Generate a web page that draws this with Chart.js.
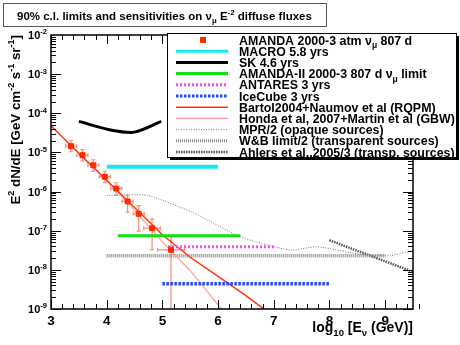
<!DOCTYPE html>
<html>
<head>
<meta charset="utf-8">
<script src="https://cdn.jsdelivr.net/npm/chart.js"></script>
<style>
  body { margin: 0; background: #fff; }
  #wrap { width: 460px; height: 345px; }
</style>
</head>
<body>
<div id="wrap"><canvas id="c" width="460" height="345"></canvas></div>
<script>
// axis ranges and tick labels
const xRange = [3, 9.5];
const yRange = [1e-9, 1e-2];
const xTickLabels = ['3', '4', '5', '6', '7', '8', '9'];
const yTickExps = [-2, -3, -4, -5, -6, -7, -8, -9];

// AMANDA 2000-3 atmospheric nu_mu unfolded points
const amandaE = [3.36, 3.565, 3.76, 3.965, 4.17, 4.375, 4.575, 4.815, 5.155];
const amandaFlux = [1.44e-5, 8.5e-6, 4.7e-6, 2.4e-6, 1.19e-6, 5.6e-7, 2.7e-7, 1.16e-7, 3.25e-8];
const amandaErrE = [0.1, 0.1, 0.1, 0.1, 0.1, 0.1, 0.1, 0.15, 0.24];
const amandaFluxHi = [1.99e-5, 1.18e-5, 6.5e-6, 3.3e-6, 1.68e-6, 7.9e-7, 4.4e-7, 1.97e-7, 6.9e-8];
const amandaFluxLo = [1.04e-5, 6.1e-6, 3.3e-6, 1.7e-6, 8.0e-7, 3.0e-7, 9.8e-8, 3.3e-8, 1e-11];

// limits / sensitivities
const macroE = [4.0, 6.0];
const macroFlux = [4.3e-6, 4.3e-6];
const skE = [3.5, 4.05, 4.5, 4.98];
const skFlux = [6.2e-5, 3.8e-5, 3.3e-5, 6.2e-5];
const amanda2E = [4.2, 6.4];
const amanda2Flux = [7.4e-8, 7.4e-8];
const antaresE = [5.1, 7.0];
const antaresFlux = [3.9e-8, 3.9e-8];
const icecubeE = [5.0, 8.0];
const icecubeFlux = [4.4e-9, 4.4e-9];

// atmospheric predictions
const bartolE = [3.0, 3.5, 4.0, 4.5, 5.0, 5.5, 6.0, 6.5, 7.0];
const bartolFlux = [4.8e-5, 9.5e-6, 1.95e-6, 3.9e-7, 7.9e-8, 2.1e-8, 6.8e-9, 2.2e-9, 6.5e-10];
const hondaE = [3.3, 4.0, 4.5, 5.0, 5.5, 6.06, 6.3];
const hondaFlux = [1.8e-5, 1.9e-6, 3.3e-7, 5.2e-8, 9.5e-9, 1e-9, 4e-10];

// theoretical bounds
const mprE = [4.0, 4.73, 5.55, 6.39, 7.29, 7.77, 8.55, 9.09, 9.5];
const mprFlux = [8.0e-7, 8.0e-7, 2.9e-7, 7.1e-8, 3.2e-8, 3.9e-8, 2.5e-8, 2.3e-8, 3.1e-8];
const wbE = [4.0, 9.0];
const wbFlux = [2.3e-8, 2.3e-8];
const ahlersE = [8.0, 9.5];
const ahlersFlux = [5.7e-8, 8.9e-9];

const pts = (xs, ys) => xs.map((x, i) => ({ x: x, y: ys[i] }));
const FONT = '"Liberation Sans", Arial, sans-serif';

function line(label, xs, ys, color, width, dash, tension) {
  return {
    label: label, data: pts(xs, ys), borderColor: color, backgroundColor: color,
    borderWidth: width, borderDash: dash || [], pointRadius: 0, tension: tension || 0,
    fill: false
  };
}

const datasets = [
  {
    label: 'AMANDA', data: pts(amandaE, amandaFlux), showLine: false,
    pointStyle: 'rect', pointRadius: 3.5, backgroundColor: '#ff2a00', borderColor: '#ff2a00',
    legendParts: [['AMANDA 2000-3 atm ', 0], ['ν', 0], ['μ', -1], [' 807 d', 0]], legendMarker: true
  },
  Object.assign(line('MACRO', macroE, macroFlux, '#19e6f0', 4), { legendParts: [['MACRO 5.8 yrs', 0]] }),
  Object.assign(line('SK', skE, skFlux, '#000000', 3, null, 0.3), { legendParts: [['SK 4.6 yrs', 0]] }),
  Object.assign(line('AMANDA-II', amanda2E, amanda2Flux, '#11e011', 3), { legendParts: [['AMANDA-II 2000-3 807 d ', 0], ['ν', 0], ['μ', -1], [' limit', 0]] }),
  Object.assign(line('ANTARES', antaresE, antaresFlux, '#ff44ff', 3, [2, 2]), { legendParts: [['ANTARES 3 yrs', 0]] }),
  Object.assign(line('IceCube', icecubeE, icecubeFlux, '#2244ff', 3.5, [2.5, 1.5]), { legendParts: [['IceCube 3 yrs', 0]] }),
  Object.assign(line('Bartol', bartolE, bartolFlux, '#ff3311', 1.5), { legendParts: [['Bartol2004+Naumov et al (RQPM)', 0]] }),
  Object.assign(line('Honda', hondaE, hondaFlux, '#ffa090', 1.2), { legendParts: [['Honda et al, 2007+Martin et al (GBW)', 0]] }),
  Object.assign(line('MPR', mprE, mprFlux, '#777777', 1, [1, 1.5], 0.2), { legendParts: [['MPR/2 (opaque sources)', 0]] }),
  Object.assign(line('WB', wbE, wbFlux, '#888888', 3.5, [1, 1]), { legendParts: [['W&B limit/2 (transparent sources)', 0]] }),
  Object.assign(line('Ahlers', ahlersE, ahlersFlux, '#555555', 2.5, [1.5, 1]), { legendParts: [['Ahlers et al.,2005/3 (transp. sources)', 0]] })
];

// draws text made of pieces: mode 0 normal, 1 superscript, -1 subscript
function rich(ctx, parts, x, y, size, align) {
  let w = 0;
  const ws = parts.map(p => {
    ctx.font = 'bold ' + (p[1] ? size * 0.68 : size) + 'px ' + FONT;
    const m = ctx.measureText(p[0]).width;
    w += m;
    return m;
  });
  let cx = align === 'right' ? x - w : align === 'center' ? x - w / 2 : x;
  ctx.textAlign = 'left';
  ctx.textBaseline = 'alphabetic';
  parts.forEach((p, i) => {
    ctx.font = 'bold ' + (p[1] ? size * 0.68 : size) + 'px ' + FONT;
    const dy = p[1] === 1 ? -size * 0.42 : p[1] === -1 ? size * 0.3 : 0;
    ctx.fillText(p[0], cx, y + dy);
    cx += ws[i];
  });
}

const decor = {
  id: 'decor',
  beforeDatasetsDraw(chart) {
    // error bars of the AMANDA points
    const ctx = chart.ctx, xs = chart.scales.x, ys = chart.scales.y, a = chart.chartArea;
    ctx.save();
    ctx.beginPath();
    ctx.rect(a.left, a.top, a.right - a.left, a.bottom - a.top);
    ctx.clip();
    ctx.strokeStyle = '#ff8c78';
    ctx.lineWidth = 1.2;
    amandaE.forEach((e, i) => {
      const px = xs.getPixelForValue(e), py = ys.getPixelForValue(amandaFlux[i]);
      const x0 = xs.getPixelForValue(e - amandaErrE[i]), x1 = xs.getPixelForValue(e + amandaErrE[i]);
      const y0 = ys.getPixelForValue(amandaFluxHi[i]);
      const y1 = Math.min(ys.getPixelForValue(amandaFluxLo[i]), a.bottom + 5);
      ctx.beginPath();
      ctx.moveTo(x0, py); ctx.lineTo(x1, py);
      ctx.moveTo(px, y0); ctx.lineTo(px, y1);
      ctx.moveTo(x0, py - 2); ctx.lineTo(x0, py + 2);
      ctx.moveTo(x1, py - 2); ctx.lineTo(x1, py + 2);
      ctx.moveTo(px - 2, y0); ctx.lineTo(px + 2, y0);
      ctx.moveTo(px - 2, y1); ctx.lineTo(px + 2, y1);
      ctx.stroke();
    });
    ctx.restore();
  },
  afterDraw(chart) {
    const ctx = chart.ctx, xs = chart.scales.x, ys = chart.scales.y, a = chart.chartArea;
    ctx.save();
    ctx.strokeStyle = '#000';
    ctx.fillStyle = '#000';
    ctx.lineWidth = 1;

    // ticks on all four sides, pointing inward
    ctx.beginPath();
    for (let k = 0; k <= Math.round((xRange[1] - xRange[0]) / 0.2); k++) {
      const v = xRange[0] + k * 0.2;
      const major = Math.abs(v - Math.round(v)) < 1e-6;
      const px = Math.round(xs.getPixelForValue(v)) + 0.5;
      const len = major ? 9 : 5;
      ctx.moveTo(px, a.bottom); ctx.lineTo(px, a.bottom - len);
      ctx.moveTo(px, a.top); ctx.lineTo(px, a.top + len);
    }
    for (let e = -9; e < -2; e++) {
      for (let m = 1; m <= 9; m++) {
        const py = Math.round(ys.getPixelForValue(m * Math.pow(10, e))) + 0.5;
        const len = m === 1 ? 10 : 5;
        ctx.moveTo(a.left, py); ctx.lineTo(a.left + len, py);
        ctx.moveTo(a.right, py); ctx.lineTo(a.right - len, py);
      }
    }
    ctx.stroke();

    // frame
    ctx.lineWidth = 1.5;
    ctx.strokeRect(a.left, a.top, a.right - a.left, a.bottom - a.top);

    // tick labels
    xTickLabels.forEach(t => {
      rich(ctx, [[t, 0]], xs.getPixelForValue(Number(t)), a.bottom + 16, 13.5, 'center');
    });
    yTickExps.forEach(e => {
      rich(ctx, [['10', 0], [String(e), 1]], a.left - 4, ys.getPixelForValue(Math.pow(10, e)) + 4, 11, 'right');
    });

    // axis titles
    rich(ctx, [['log', 0], ['10', -1], [' [E', 0], ['ν', -1], [' (GeV)]', 0]], a.right, 332, 14, 'right');
    ctx.save();
    ctx.translate(20, a.top);
    ctx.rotate(-Math.PI / 2);
    rich(ctx, [['E', 0], ['2', 1], [' dN/dE [GeV cm', 0], ['-2', 1], [' s', 0], ['-1', 1], [' sr', 0], ['-1', 1], [']', 0]], 0, 0, 13.3, 'right');
    ctx.restore();

    // legend box with shadow
    const lx = 167, ly = 33, lw = 289, lh = 124;
    ctx.fillStyle = '#000';
    ctx.fillRect(lx + 3, ly + 3, lw, lh);
    ctx.fillStyle = '#fff';
    ctx.fillRect(lx, ly, lw, lh);
    ctx.lineWidth = 1;
    ctx.strokeStyle = '#000';
    ctx.strokeRect(lx + 0.5, ly + 0.5, lw, lh);
    chart.data.datasets.forEach((ds, i) => {
      const ry = ly + 7 + i * 11.2;
      if (ds.legendMarker) {
        ctx.fillStyle = ds.backgroundColor;
        ctx.fillRect(200, ry - 3, 6, 6);
      } else {
        ctx.save();
        ctx.strokeStyle = ds.borderColor;
        ctx.lineWidth = Math.min(ds.borderWidth, 3);
        ctx.setLineDash(ds.borderDash);
        ctx.beginPath();
        ctx.moveTo(176, ry); ctx.lineTo(228, ry);
        ctx.stroke();
        ctx.restore();
      }
      ctx.fillStyle = '#000';
      rich(ctx, ds.legendParts, 239, ry + 4.5, 12.4, 'left');
    });

    // title box
    ctx.fillStyle = '#fff';
    ctx.fillRect(3, 3, 323, 23);
    ctx.strokeStyle = '#555';
    ctx.strokeRect(3.5, 3.5, 323, 23);
    ctx.fillStyle = '#000';
    rich(ctx, [['90% c.l. limits and sensitivities on ', 0], ['ν', 0], ['μ', -1], [' E', 0], ['-2', 1], [' diffuse fluxes', 0]], 17, 19.5, 11.5, 'left');
    ctx.restore();
  }
};

new Chart(document.getElementById('c'), {
  type: 'line',
  data: { datasets: datasets },
  options: {
    responsive: false,
    animation: false,
    devicePixelRatio: 1,
    layout: { padding: { left: 51, right: 47, top: 35, bottom: 36 } },
    scales: {
      x: { type: 'linear', min: xRange[0], max: xRange[1], display: false },
      y: { type: 'logarithmic', min: yRange[0], max: yRange[1], display: false }
    },
    plugins: { legend: { display: false }, tooltip: { enabled: false } }
  },
  plugins: [decor]
});
</script>
</body>
</html>
